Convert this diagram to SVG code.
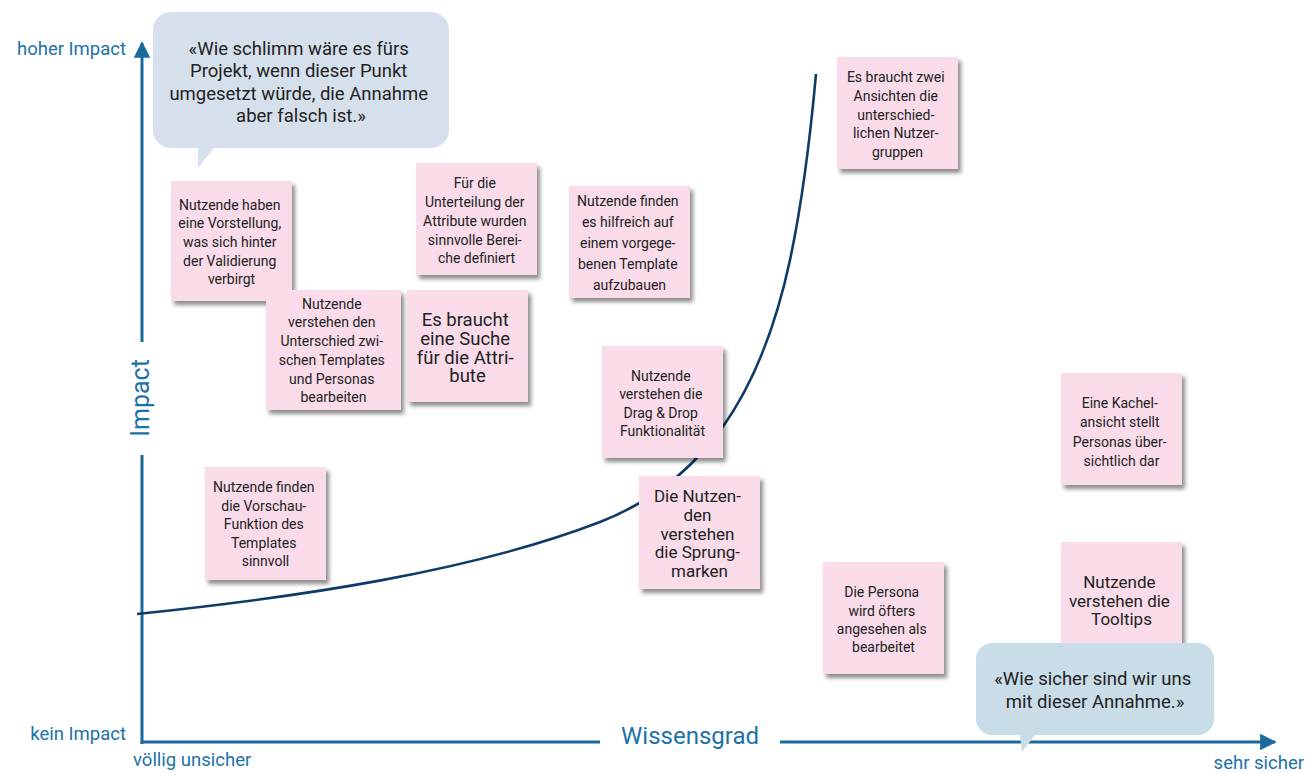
<svg xmlns="http://www.w3.org/2000/svg" width="1306" height="773" viewBox="0 0 1306 773">
  <defs>
    <filter id="shadow" x="-10%" y="-10%" width="130%" height="130%">
      <feDropShadow dx="3" dy="4" stdDeviation="2.2" flood-color="#000" flood-opacity="0.45"/>
    </filter>
    <marker id="arrow" viewBox="0 0 10 10" refX="9" refY="5" markerWidth="6" markerHeight="5.5" markerUnits="strokeWidth" orient="auto">
      <path d="M0,0 L10,5 L0,10 z" fill="#1b6a9c"/>
    </marker>
    <style>
      text { font-family: Roboto, "Liberation Sans", sans-serif; }
      .axis { stroke: #1b6a9c; stroke-width: 3; fill: none; }
      .axlabel { fill: #1b72a8; font-size: 18.5px; }
      .axtitle { fill: #1b72a8; font-size: 24px; }
      .note { fill: #f9dbe9; filter: url(#shadow); }
      .nt { fill: #222; font-size: 14px; text-anchor: middle; }
      .nt-l { fill: #222; font-size: 17px; text-anchor: middle; }
      .nt-xl { fill: #222; font-size: 18.5px; text-anchor: middle; }
      .bubble-text { fill: #222; text-anchor: middle; }
      .curve { stroke: #0e3a68; stroke-width: 2.6; fill: none; }
    </style>
  </defs>

  <rect width="1306" height="773" fill="#ffffff"/>

  <!-- axes and the knowledge/impact curve -->
  <g id="connectors">
    <line class="axis" x1="142" y1="744" x2="142" y2="455"/>
    <line class="axis" x1="142" y1="342" x2="142" y2="43" marker-end="url(#arrow)"/>
    <line class="axis" x1="140.5" y1="742" x2="600" y2="742"/>
    <line class="axis" x1="780" y1="742" x2="1275" y2="742" marker-end="url(#arrow)"/>
    <path class="curve" d="M137,614 C300,597 470,572 600,522 C700,483 760,400 790,260 C800,213 810,140 816,74"/>
  </g>

  <!-- axis labels -->
  <g id="axis-labels">
    <text class="axlabel" x="126" y="55" text-anchor="end">hoher Impact</text>
    <text class="axlabel" x="126" y="740" text-anchor="end">kein Impact</text>
    <text class="axlabel" x="133" y="766">völlig unsicher</text>
    <text class="axlabel" x="1304" y="769" text-anchor="end">sehr sicher</text>
    <text class="axtitle" transform="translate(149,398) rotate(-90)" text-anchor="middle" style="font-size:25px">Impact</text>
    <text class="axtitle" x="690" y="744" text-anchor="middle">Wissensgrad</text>
  </g>

  <!-- speech bubble: impact question -->
  <g id="bubble-impact">
    <path d="M171,12 H431 A18,18 0 0 1 449,30 V130 A18,18 0 0 1 431,148 H214 L198,168 L198,148 H171 A18,18 0 0 1 153,130 V30 A18,18 0 0 1 171,12 Z" fill="#d6e0ec"/>
    <text class="bubble-text" font-size="18.5">
      <tspan x="301" y="55">«Wie schlimm wäre es fürs</tspan>
      <tspan x="301" y="77">Projekt, wenn dieser Punkt</tspan>
      <tspan x="301" y="100">umgesetzt würde, die Annahme</tspan>
      <tspan x="301" y="122">aber falsch ist.»</tspan>
    </text>
  </g>

  <!-- sticky notes -->
  <g id="note-validierung">
    <rect class="note" x="171" y="181" width="121" height="120"/>
    <text class="nt">
      <tspan x="231.5" y="210">Nutzende haben</tspan>
      <tspan x="231.5" y="228">eine Vorstellung,</tspan>
      <tspan x="231.5" y="247">was sich hinter</tspan>
      <tspan x="231.5" y="266">der Validierung</tspan>
      <tspan x="231.5" y="284">verbirgt</tspan>
    </text>
  </g>

  <g id="note-bereiche">
    <rect class="note" x="416" y="163" width="121" height="112"/>
    <text class="nt">
      <tspan x="476.5" y="188">Für die</tspan>
      <tspan x="476.5" y="207">Unterteilung der</tspan>
      <tspan x="476.5" y="226">Attribute wurden</tspan>
      <tspan x="476.5" y="245">sinnvolle Berei-</tspan>
      <tspan x="476.5" y="263">che definiert</tspan>
    </text>
  </g>

  <g id="note-templates-personas">
    <rect class="note" x="266" y="290" width="135" height="120"/>
    <text class="nt">
      <tspan x="333.5" y="309">Nutzende</tspan>
      <tspan x="333.5" y="327">verstehen den</tspan>
      <tspan x="333.5" y="346">Unterschied zwi-</tspan>
      <tspan x="333.5" y="365">schen Templates</tspan>
      <tspan x="333.5" y="384">und Personas</tspan>
      <tspan x="333.5" y="402">bearbeiten</tspan>
    </text>
  </g>

  <g id="note-suche">
    <rect class="note" x="407" y="290" width="121" height="112"/>
    <text class="nt-xl">
      <tspan x="467.5" y="326">Es braucht</tspan>
      <tspan x="467.5" y="345">eine Suche</tspan>
      <tspan x="467.5" y="364">für die Attri-</tspan>
      <tspan x="467.5" y="382">bute</tspan>
    </text>
  </g>

  <g id="note-vorgegebenes-template">
    <rect class="note" x="569" y="186" width="121" height="112"/>
    <text class="nt">
      <tspan x="629.5" y="206">Nutzende finden</tspan>
      <tspan x="629.5" y="227">es hilfreich auf</tspan>
      <tspan x="629.5" y="248">einem vorgege-</tspan>
      <tspan x="629.5" y="269">benen Template</tspan>
      <tspan x="629.5" y="290">aufzubauen</tspan>
    </text>
  </g>

  <g id="note-drag-drop">
    <rect class="note" x="602" y="346" width="121" height="112"/>
    <text class="nt">
      <tspan x="662.5" y="381">Nutzende</tspan>
      <tspan x="662.5" y="399">verstehen die</tspan>
      <tspan x="662.5" y="418">Drag &amp; Drop</tspan>
      <tspan x="662.5" y="436">Funktionalität</tspan>
    </text>
  </g>

  <g id="note-ansichten">
    <rect class="note" x="837" y="57" width="121" height="112"/>
    <text class="nt">
      <tspan x="897.5" y="82">Es braucht zwei</tspan>
      <tspan x="897.5" y="101">Ansichten die</tspan>
      <tspan x="897.5" y="120">unterschied-</tspan>
      <tspan x="897.5" y="138">lichen Nutzer-</tspan>
      <tspan x="897.5" y="157">gruppen</tspan>
    </text>
  </g>

  <g id="note-vorschau">
    <rect class="note" x="205" y="467" width="121" height="113"/>
    <text class="nt">
      <tspan x="265.5" y="492">Nutzende finden</tspan>
      <tspan x="265.5" y="511">die Vorschau-</tspan>
      <tspan x="265.5" y="529">Funktion des</tspan>
      <tspan x="265.5" y="548">Templates</tspan>
      <tspan x="265.5" y="566">sinnvoll</tspan>
    </text>
  </g>

  <g id="note-sprungmarken">
    <rect class="note" x="639" y="476" width="121" height="113"/>
    <text class="nt-l">
      <tspan x="699.5" y="502">Die Nutzen-</tspan>
      <tspan x="699.5" y="521">den</tspan>
      <tspan x="699.5" y="540">verstehen</tspan>
      <tspan x="699.5" y="558">die Sprung-</tspan>
      <tspan x="699.5" y="577">marken</tspan>
    </text>
  </g>

  <g id="note-kachelansicht">
    <rect class="note" x="1061" y="373" width="121" height="112"/>
    <text class="nt">
      <tspan x="1121.5" y="408">Eine Kachel-</tspan>
      <tspan x="1121.5" y="427">ansicht stellt</tspan>
      <tspan x="1121.5" y="447">Personas über-</tspan>
      <tspan x="1121.5" y="466">sichtlich dar</tspan>
    </text>
  </g>

  <g id="note-persona-angesehen">
    <rect class="note" x="823" y="562" width="121" height="112"/>
    <text class="nt">
      <tspan x="883.5" y="597">Die Persona</tspan>
      <tspan x="883.5" y="616">wird öfters</tspan>
      <tspan x="883.5" y="634">angesehen als</tspan>
      <tspan x="883.5" y="652">bearbeitet</tspan>
    </text>
  </g>

  <g id="note-tooltips">
    <rect class="note" x="1061" y="542" width="121" height="112"/>
    <text class="nt-l">
      <tspan x="1121.5" y="588">Nutzende</tspan>
      <tspan x="1121.5" y="607">verstehen die</tspan>
      <tspan x="1121.5" y="625">Tooltips</tspan>
    </text>
  </g>

  <!-- speech bubble: certainty question -->
  <g id="bubble-certainty">
    <path d="M992,643 H1198 A16,16 0 0 1 1214,659 V719 A16,16 0 0 1 1198,735 H1035 L1022,752 L1020,735 H992 A16,16 0 0 1 976,719 V659 A16,16 0 0 1 992,643 Z" fill="#c9dde9"/>
    <text class="bubble-text" font-size="18.5">
      <tspan x="1095" y="685">«Wie sicher sind wir uns</tspan>
      <tspan x="1095" y="708">mit dieser Annahme.»</tspan>
    </text>
  </g>
</svg>
